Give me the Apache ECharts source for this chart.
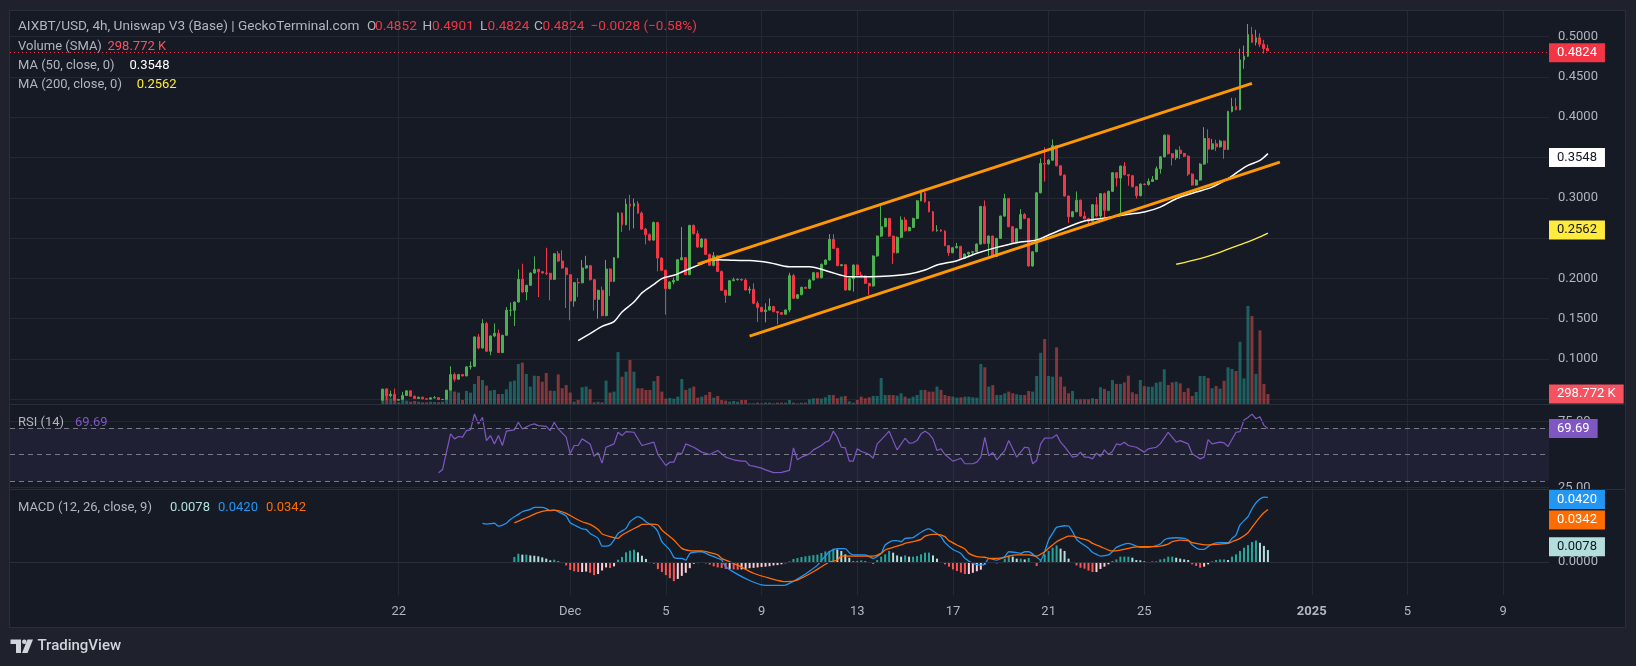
<!DOCTYPE html>
<html><head><meta charset="utf-8">
<script src="https://cdn.jsdelivr.net/npm/echarts@6/dist/echarts.min.js"></script>
<style>html,body{margin:0;padding:0;background:#1f222c;}#c{width:1636px;height:666px;}</style>
</head><body><div id="c"></div>
<script>
// ---------------- data ----------------
const NUM_BARS = 386;          // 4h slots on the time axis (incl. empty future)
const FIRST_BAR = 93;          // slot of the first candle
const xTickIdx  = [97, 140, 164, 188, 212, 236, 260, 284, 326, 350, 374];
const xTickText = ['22', 'Dec', '5', '9', '13', '17', '21', '25', '2025', '5', '9'];

// [open, close, low, high]
const candles = [
[0.0489,0.0625,0.0480,0.0633],[0.0625,0.0543,0.0489,0.0633],[0.0543,0.0563,0.0522,0.0608],[0.0563,0.0489,0.0485,0.0633],[0.0489,0.0497,0.0482,0.0505],
[0.0497,0.0547,0.0494,0.0592],[0.0547,0.0605,0.0540,0.0612],[0.0605,0.0539,0.0530,0.0610],[0.0539,0.0510,0.0505,0.0545],[0.0510,0.0526,0.0505,0.0532],
[0.0526,0.0506,0.0500,0.0530],[0.0506,0.0502,0.0498,0.0512],[0.0502,0.0518,0.0498,0.0522],[0.0518,0.0520,0.0512,0.0540],[0.0520,0.0497,0.0494,0.0524],
[0.0497,0.0499,0.0494,0.0503],[0.0499,0.0613,0.0497,0.0618],[0.0613,0.0807,0.0610,0.0910],[0.0807,0.0749,0.0720,0.0830],[0.0749,0.0807,0.0745,0.0815],
[0.0807,0.0790,0.0785,0.0812],[0.0790,0.0902,0.0786,0.0915],[0.0902,0.0910,0.0870,0.0970],[0.0910,0.1274,0.0905,0.1280],[0.1274,0.1137,0.1120,0.1310],
[0.1137,0.1439,0.1130,0.1493],[0.1439,0.1096,0.1090,0.1460],[0.1096,0.1286,0.1047,0.1290],[0.1286,0.1319,0.1270,0.1440],[0.1319,0.1080,0.1075,0.1365],
[0.1080,0.1294,0.1075,0.1300],[0.1294,0.1604,0.1290,0.1645],[0.1604,0.1604,0.1530,0.1700],[0.1604,0.1707,0.1410,0.1712],[0.1707,0.1988,0.1700,0.2112],
[0.1988,0.1831,0.1825,0.2182],[0.1831,0.1914,0.1728,0.1920],[0.1914,0.2067,0.1905,0.2075],[0.2067,0.2112,0.2060,0.2273],[0.2112,0.2083,0.1769,0.2120],
[0.2083,0.2067,0.2060,0.2090],[0.2067,0.2063,0.2040,0.2380],[0.2063,0.1988,0.1728,0.2070],[0.1988,0.2306,0.1980,0.2312],[0.2306,0.2215,0.2205,0.2340],
[0.2215,0.2129,0.2120,0.2350],[0.2129,0.2046,0.1633,0.2135],[0.2046,0.1719,0.1480,0.2050],[0.1719,0.1947,0.1650,0.1955],[0.1947,0.1945,0.1770,0.2005],
[0.1945,0.2129,0.1940,0.2230],[0.2129,0.2157,0.2120,0.2280],[0.2157,0.1984,0.1975,0.2165],[0.1984,0.1740,0.1600,0.1990],[0.1740,0.1852,0.1500,0.1860],
[0.1852,0.1538,0.1530,0.1900],[0.1538,0.2116,0.1530,0.2230],[0.2116,0.1963,0.1780,0.2125],[0.1963,0.2257,0.1955,0.2265],[0.2257,0.2810,0.2250,0.2820],
[0.2810,0.2665,0.2575,0.2818],[0.2665,0.2922,0.2660,0.2988],[0.2922,0.2897,0.2595,0.3037],[0.2897,0.2930,0.2620,0.2990],[0.2930,0.2810,0.2800,0.2960],
[0.2810,0.2612,0.2600,0.2830],[0.2612,0.2542,0.2422,0.2625],[0.2542,0.2475,0.2460,0.2560],[0.2475,0.2694,0.2470,0.2705],[0.2694,0.2252,0.2087,0.2700],
[0.2252,0.2100,0.2090,0.2260],[0.2100,0.1873,0.1550,0.2110],[0.1873,0.1955,0.1865,0.1965],[0.1955,0.1976,0.1926,0.2010],[0.1976,0.2232,0.1970,0.2240],
[0.2232,0.2257,0.2225,0.2637],[0.2257,0.2046,0.2040,0.2265],[0.2046,0.2657,0.2040,0.2665],[0.2657,0.2554,0.2545,0.2670],[0.2554,0.2389,0.2380,0.2595],
[0.2389,0.2488,0.2380,0.2500],[0.2488,0.2298,0.2290,0.2495],[0.2298,0.2162,0.2155,0.2305],[0.2162,0.2281,0.2150,0.2327],[0.2281,0.2087,0.2080,0.2290],
[0.2087,0.1852,0.1845,0.2095],[0.1852,0.1790,0.1695,0.1860],[0.1790,0.1972,0.1785,0.1980],[0.1972,0.1984,0.1965,0.2010],[0.1984,0.1988,0.1975,0.2000],
[0.1988,0.1980,0.1970,0.1998],[0.1980,0.1856,0.1850,0.2000],[0.1856,0.1865,0.1810,0.1900],[0.1865,0.1691,0.1680,0.1939],[0.1691,0.1640,0.1460,0.1720],
[0.1640,0.1588,0.1580,0.1650],[0.1588,0.1608,0.1455,0.1691],[0.1608,0.1650,0.1600,0.1753],[0.1650,0.1588,0.1580,0.1660],[0.1588,0.1575,0.1430,0.1595],
[0.1575,0.1555,0.1548,0.1580],[0.1555,0.1608,0.1550,0.1615],[0.1608,0.2034,0.1580,0.2070],[0.2034,0.1753,0.1745,0.2055],[0.1753,0.1798,0.1745,0.1805],
[0.1798,0.1889,0.1790,0.1898],[0.1889,0.1877,0.1870,0.1896],[0.1877,0.1980,0.1870,0.1990],[0.1980,0.2071,0.1975,0.2080],[0.2071,0.2009,0.2000,0.2078],
[0.2009,0.2174,0.2000,0.2185],[0.2174,0.2228,0.2165,0.2235],[0.2228,0.2484,0.2220,0.2550],[0.2484,0.2372,0.2365,0.2550],[0.2372,0.2158,0.2150,0.2380],
[0.2158,0.2170,0.2150,0.2178],[0.2170,0.1856,0.1850,0.2175],[0.1856,0.1997,0.1850,0.2005],[0.1997,0.2166,0.1836,0.2172],[0.2166,0.2042,0.2035,0.2172],
[0.2042,0.2030,0.2020,0.2083],[0.2030,0.1939,0.1930,0.2036],[0.1939,0.1906,0.1794,0.1945],[0.1906,0.2278,0.1900,0.2285],[0.2278,0.2525,0.2270,0.2532],
[0.2525,0.2641,0.2515,0.2897],[0.2641,0.2744,0.2635,0.2752],[0.2744,0.2525,0.2515,0.2750],[0.2525,0.2319,0.2180,0.2530],[0.2319,0.2509,0.2310,0.2520],
[0.2509,0.2724,0.2500,0.2770],[0.2724,0.2591,0.2580,0.2760],[0.2591,0.2633,0.2585,0.2642],[0.2633,0.2744,0.2625,0.2752],[0.2744,0.2963,0.2735,0.2972],
[0.2963,0.3062,0.2955,0.3100],[0.3062,0.2951,0.2940,0.3070],[0.2951,0.2827,0.2820,0.2958],[0.2827,0.2591,0.2580,0.2835],[0.2591,0.2600,0.2580,0.2660],
[0.2600,0.2587,0.2575,0.2608],[0.2587,0.2406,0.2400,0.2595],[0.2406,0.2319,0.2280,0.2412],[0.2319,0.2380,0.2312,0.2388],[0.2380,0.2397,0.2372,0.2440],
[0.2397,0.2249,0.2240,0.2405],[0.2249,0.2302,0.2245,0.2310],[0.2302,0.2323,0.2260,0.2330],[0.2323,0.2331,0.2300,0.2340],[0.2331,0.2426,0.2325,0.2434],
[0.2426,0.2893,0.2420,0.2900],[0.2893,0.2434,0.2425,0.2967],[0.2434,0.2525,0.2280,0.2532],[0.2525,0.2273,0.2260,0.2530],[0.2273,0.2496,0.2265,0.2504],
[0.2496,0.2773,0.2490,0.2780],[0.2773,0.2992,0.2765,0.3050],[0.2992,0.2641,0.2635,0.2998],[0.2641,0.2447,0.2440,0.2650],[0.2447,0.2616,0.2440,0.2625],
[0.2616,0.2794,0.2610,0.2860],[0.2794,0.2744,0.2735,0.2810],[0.2744,0.2154,0.2146,0.2750],[0.2154,0.2331,0.2146,0.2340],[0.2331,0.3062,0.2325,0.3070],
[0.3062,0.3426,0.3055,0.3488],[0.3426,0.3418,0.3200,0.3627],[0.3418,0.3467,0.3410,0.3480],[0.3467,0.3649,0.3460,0.3723],[0.3649,0.3397,0.3390,0.3655],
[0.3397,0.3281,0.3275,0.3405],[0.3281,0.3021,0.3015,0.3290],[0.3021,0.2765,0.2690,0.3030],[0.2765,0.2827,0.2758,0.2835],[0.2827,0.2971,0.2820,0.3078],
[0.2971,0.2773,0.2765,0.2978],[0.2773,0.2740,0.2730,0.2830],[0.2740,0.2710,0.2650,0.2752],[0.2710,0.2914,0.2705,0.2922],[0.2914,0.2774,0.2765,0.3010],
[0.2774,0.3051,0.2740,0.3058],[0.3051,0.2844,0.2760,0.3065],[0.2844,0.3080,0.2835,0.3090],[0.3080,0.3311,0.3072,0.3320],[0.3311,0.3245,0.3140,0.3318],
[0.3245,0.3393,0.2803,0.3400],[0.3393,0.3286,0.3278,0.3443],[0.3286,0.3274,0.3150,0.3295],[0.3274,0.3137,0.3130,0.3282],[0.3137,0.3026,0.2990,0.3145],
[0.3026,0.3170,0.3020,0.3180],[0.3170,0.3165,0.3155,0.3180],[0.3165,0.3203,0.3150,0.3240],[0.3203,0.3228,0.3198,0.3270],[0.3228,0.3360,0.3220,0.3390],
[0.3360,0.3509,0.3300,0.3517],[0.3509,0.3777,0.3500,0.3785],[0.3777,0.3546,0.3538,0.3785],[0.3546,0.3496,0.3400,0.3553],[0.3496,0.3591,0.3470,0.3600],
[0.3591,0.3550,0.3480,0.3640],[0.3550,0.3517,0.3505,0.3558],[0.3517,0.3294,0.3270,0.3525],[0.3294,0.3158,0.3150,0.3302],[0.3158,0.3220,0.3150,0.3228],
[0.3220,0.3418,0.3212,0.3430],[0.3418,0.3736,0.3410,0.3877],[0.3736,0.3604,0.3430,0.3850],[0.3604,0.3670,0.3596,0.3730],[0.3670,0.3633,0.3580,0.3720],
[0.3633,0.3703,0.3620,0.3720],[0.3703,0.3600,0.3484,0.3710],[0.3600,0.4071,0.3592,0.4080],[0.4071,0.4133,0.4060,0.4240],[0.4133,0.4092,0.4085,0.4240],
[0.4092,0.4711,0.4085,0.4850],[0.4711,0.4756,0.4600,0.4888],[0.4756,0.5025,0.4748,0.5157],[0.5025,0.4930,0.4920,0.5120],[0.4930,0.4985,0.4890,0.5085],
[0.4985,0.4905,0.4870,0.5040],[0.4905,0.4852,0.4790,0.4960],[0.4852,0.4824,0.4824,0.4901]
];

// volume in thousands, one per candle
const volumeK = [
440,470,170,170,50,120,100,70,90,70,
50,50,70,60,50,70,140,400,370,340,
120,390,340,600,835,715,550,400,420,300,
300,440,670,700,1195,1235,895,520,845,835,
665,925,400,390,885,470,565,340,70,120,
500,520,440,50,70,50,700,340,370,1550,
815,965,1315,965,470,470,420,420,685,835,
370,160,180,160,220,745,420,470,520,190,
220,270,360,190,240,120,100,70,90,70,
120,120,20,20,40,20,40,40,20,40,
40,40,120,40,20,40,40,140,170,170,
160,200,270,270,170,220,240,80,40,120,
220,170,200,240,240,775,270,270,270,250,
320,220,170,220,270,420,420,370,370,520,
420,270,240,220,190,200,220,220,200,190,
1195,1095,520,565,270,270,320,370,320,290,
270,270,390,370,835,1530,1940,835,815,1690,
815,520,320,390,140,140,140,140,170,150,
500,450,390,715,600,600,645,845,350,300,
715,535,515,515,635,665,1035,565,645,665,
615,360,470,240,360,835,835,775,470,535,
460,695,1095,1045,985,1860,765,2925,2625,900,
2200,600,298.772
];

// moving averages: [slot, value]
const ma50 = [[142,0.1227],[145,0.1315],[148,0.1405],[151,0.1465],[153,0.1584],[156,0.1707],[158,0.1820],[161,0.1926],[163,0.1998],[166,0.2038],[168,0.2079],[171,0.2141],[173,0.2182],[175,0.2224],[177,0.2232],[181,0.2224],[185,0.2222],[190,0.2195],[195,0.2145],[200,0.2145],[205,0.2083],[210,0.2021],[215,0.2021],[220,0.2030],[225,0.2054],[229,0.2104],[232,0.2166],[237,0.2220],[242,0.2311],[247,0.2385],[252,0.2443],[257,0.2476],[260,0.2538],[265,0.2641],[269,0.2711],[273,0.2741],[280,0.2795],[284,0.2824],[288,0.2885],[292,0.2989],[297,0.3071],[301,0.3133],[305,0.3237],[308,0.3340],[310,0.3402],[313,0.3464],[315,0.3548]];
const ma200 = [[292,0.2175],[298,0.2245],[302,0.2307],[306,0.2382],[310,0.2452],[313,0.2514],[315,0.2562]];

// trend channel drawn on the chart: [slot, price]
const channelUpper = [[172,0.2177],[311,0.4420]];
const channelLower = [[185,0.1283],[318,0.3443]];

// RSI(14): [slot, value]
const rsi14 = [[107,36.2],[108,38.7],[110,65.6],[111,61.8],[112,63.6],[113,63.1],[114,68.1],[115,68.6],[116,80.6],[117,73.1],[118,78.1],[119,60.5],[120,64.3],[121,58],[122,64.3],[123,56.8],[124,67.6],[126,68.6],[127,74.4],[128,69.3],[130,72.3],[131,73.1],[132,71.8],[134,71.3],[135,68.1],[136,74.4],[137,69.3],[139,63.1],[140,50.5],[141,56.8],[142,56.8],[143,61.8],[145,58],[146,48.7],[147,51.3],[148,43.5],[149,55.5],[151,58],[152,66.8],[153,64.3],[154,67.3],[156,66.8],[158,56.8],[161,59.3],[162,50],[164,41.7],[165,44.2],[166,44.2],[167,51.3],[168,50.5],[169,58],[171,55.5],[173,51.8],[175,50],[177,53],[179,48],[181,46],[183,45],[184,45],[185,41.7],[186,41.2],[188,39.7],[189,38.4],[191,36.3],[193,36.5],[195,38],[196,55],[197,46],[198,48],[200,50.5],[201,53.5],[203,56.8],[204,59.3],[205,60.5],[206,67.6],[207,63],[208,55.5],[209,55],[210,45],[211,45],[212,54.3],[213,52.3],[214,51.3],[215,50],[216,47.2],[217,58],[219,64.3],[220,67.6],[222,53.5],[224,62.3],[225,58.5],[226,58.8],[227,60.5],[228,65.6],[229,67.6],[230,65.6],[231,61.8],[232,53],[233,54.3],[234,50],[236,45],[237,46],[238,47.2],[239,43],[241,43],[242,44.2],[243,48],[244,63],[245,49],[246,51.5],[247,46],[249,53],[250,60.5],[251,54.3],[252,48],[254,55.5],[255,55],[256,43],[257,45.5],[258,58],[259,62.3],[261,62.6],[262,65],[263,59.3],[264,56],[266,48],[267,48.7],[268,51.8],[269,48],[270,48],[271,46.7],[272,51],[273,48.5],[274,53.5],[275,50],[276,52.3],[277,58],[278,57.3],[279,59.3],[280,56.8],[282,55.5],[284,51.8],[285,54.3],[287,55.5],[288,58],[290,66.8],[292,59.3],[293,60.5],[295,58],[296,50.5],[298,46.7],[299,48],[300,61.3],[301,58],[303,59.3],[304,58.8],[305,56],[307,66.8],[308,67.3],[309,76],[310,78],[311,80.5],[312,77],[313,78.5],[314,72],[315,69.69]];

// MACD(12,26,9)
const macdLine = [[118,0.0252],[119,0.0247],[121,0.0252],[122,0.0234],[124,0.0252],[125,0.0277],[127,0.0310],[128,0.0327],[130,0.0342],[131,0.0355],[133,0.0355],[134,0.0347],[135,0.0334],[136,0.0338],[137,0.0327],[139,0.0299],[140,0.0255],[142,0.0229],[143,0.0215],[144,0.0212],[145,0.0186],[147,0.0154],[148,0.0104],[149,0.0104],[150,0.0111],[151,0.0143],[152,0.0186],[154,0.0219],[155,0.0262],[157,0.0295],[158,0.0284],[159,0.0262],[161,0.0229],[162,0.0197],[163,0.0132],[165,0.0078],[166,0.0031],[167,0.0024],[168,0.0024],[169,0.0013],[170,0.0056],[172,0.0067],[173,0.0067],[175,0.0045],[176,0.0035],[178,0.0013],[179,-0.0030],[182,-0.0080],[185,-0.0120],[188,-0.0148],[191,-0.0152],[194,-0.0150],[196,-0.0125],[198,-0.0095],[200,-0.0060],[202,-0.0020],[205,0.0067],[207,0.0087],[209,0.0087],[210,0.0061],[211,0.0046],[214,0.0046],[215,0.0035],[216,0.0024],[218,0.0056],[219,0.0111],[221,0.0139],[222,0.0139],[223,0.0132],[224,0.0154],[226,0.0158],[227,0.0176],[229,0.0208],[230,0.0215],[231,0.0202],[233,0.0165],[234,0.0126],[236,0.0082],[238,0.0056],[239,0.0024],[241,-0.0009],[243,-0.0020],[244,-0.0015],[245,0.0024],[246,0.0017],[247,0.0013],[249,0.0035],[250,0.0067],[252,0.0061],[253,0.0056],[254,0.0067],[255,0.0067],[257,0.0031],[258,0.0013],[259,0.0067],[260,0.0143],[261,0.0186],[262,0.0225],[264,0.0236],[265,0.0234],[266,0.0197],[267,0.0147],[268,0.0126],[270,0.0089],[271,0.0063],[272,0.0050],[273,0.0039],[275,0.0046],[276,0.0067],[277,0.0095],[279,0.0117],[280,0.0121],[282,0.0104],[283,0.0095],[285,0.0095],[286,0.0100],[288,0.0117],[289,0.0143],[290,0.0154],[292,0.0158],[294,0.0154],[295,0.0143],[296,0.0111],[298,0.0082],[299,0.0082],[300,0.0100],[301,0.0117],[303,0.0126],[305,0.0126],[306,0.0154],[307,0.0176],[308,0.0241],[310,0.0295],[311,0.0345],[312,0.0385],[313,0.0410],[314,0.0422],[315,0.0420]];
const signalLine = [[126,0.0255],[128,0.0277],[130,0.0299],[132,0.0321],[134,0.0334],[136,0.0338],[137,0.0334],[139,0.0316],[141,0.0288],[143,0.0262],[145,0.0245],[147,0.0212],[148,0.0182],[150,0.0165],[152,0.0154],[153,0.0176],[155,0.0204],[157,0.0230],[158,0.0245],[160,0.0247],[162,0.0241],[163,0.0208],[166,0.0143],[168,0.0089],[170,0.0074],[172,0.0072],[173,0.0072],[175,0.0061],[177,0.0046],[178,0.0024],[180,0.0002],[182,-0.0020],[186,-0.0073],[190,-0.0105],[194,-0.0128],[197,-0.0117],[201,-0.0063],[205,0.0000],[207,0.0013],[208,0.0039],[211,0.0039],[216,0.0039],[218,0.0056],[219,0.0078],[221,0.0095],[223,0.0111],[224,0.0121],[226,0.0132],[228,0.0147],[229,0.0169],[231,0.0180],[232,0.0180],[234,0.0165],[235,0.0139],[237,0.0111],[239,0.0085],[240,0.0056],[242,0.0035],[244,0.0031],[245,0.0024],[247,0.0024],[249,0.0031],[250,0.0039],[252,0.0046],[255,0.0046],[257,0.0039],[259,0.0067],[260,0.0089],[262,0.0132],[264,0.0158],[265,0.0169],[266,0.0169],[268,0.0154],[270,0.0139],[271,0.0121],[273,0.0100],[275,0.0078],[276,0.0072],[278,0.0078],[280,0.0089],[281,0.0095],[283,0.0100],[286,0.0100],[288,0.0104],[290,0.0117],[291,0.0132],[293,0.0143],[295,0.0139],[296,0.0126],[298,0.0117],[300,0.0111],[301,0.0113],[303,0.0117],[305,0.0121],[306,0.0132],[308,0.0154],[310,0.0191],[311,0.0225],[312,0.0260],[313,0.0292],[314,0.0320],[315,0.0342]];
const HIST_START = 126;
const macdHist = [
0.0033,0.0054,0.0048,0.0048,0.0043,0.0041,0.0037,0.0030,0.0022,0.0011,
0.0015,0.0004,-0.0007,-0.0022,-0.0052,-0.0060,-0.0065,-0.0065,-0.0062,-0.0070,
-0.0085,-0.0078,-0.0055,-0.0035,-0.0039,-0.0028,0.0015,0.0033,0.0063,0.0074,
0.0080,0.0063,0.0041,0.0020,-0.0007,-0.0011,-0.0046,-0.0065,-0.0085,-0.0105,
-0.0124,-0.0110,-0.0090,-0.0070,-0.0040,-0.0011,-0.0007,-0.0004,-0.0009,-0.0017,
-0.0028,-0.0035,-0.0039,-0.0045,-0.0045,-0.0048,-0.0050,-0.0048,-0.0045,-0.0040,
-0.0038,-0.0035,-0.0032,-0.0030,-0.0027,-0.0022,-0.0020,-0.0015,-0.0008,0.0004,
0.0020,0.0026,0.0033,0.0037,0.0041,0.0045,0.0048,0.0059,0.0069,0.0072,
0.0087,0.0082,0.0072,0.0050,0.0028,0.0004,0.0007,0.0011,0.0004,-0.0002,
-0.0013,0.0013,0.0035,0.0050,0.0072,0.0061,0.0043,0.0035,0.0043,0.0035,
0.0035,0.0039,0.0050,0.0061,0.0061,0.0043,0.0022,-0.0004,-0.0015,-0.0030,
-0.0048,-0.0058,-0.0068,-0.0078,-0.0078,-0.0070,-0.0060,-0.0050,-0.0015,-0.0004,
-0.0004,-0.0009,-0.0004,0.0022,0.0043,0.0035,0.0022,0.0022,0.0017,0.0026,
-0.0004,-0.0026,0.0017,0.0050,0.0072,0.0093,0.0108,0.0087,0.0072,0.0022,
-0.0002,-0.0022,-0.0037,-0.0043,-0.0055,-0.0065,-0.0065,-0.0045,-0.0030,-0.0015,
0.0007,0.0017,0.0035,0.0035,0.0035,0.0028,0.0013,0.0011,0.0004,-0.0002,
0.0004,0.0004,0.0017,0.0022,0.0035,0.0035,0.0028,0.0022,0.0017,0.0013,
-0.0015,-0.0026,-0.0037,-0.0030,-0.0015,0.0004,0.0013,0.0017,0.0017,0.0013,
0.0035,0.0050,0.0072,0.0093,0.0110,0.0130,0.0140,0.0125,0.0105,0.0078
];

// ---------------- build ----------------
const FONT = 'Roboto, "Liberation Sans", sans-serif';
const GRAY = '#b2b5be';
const UP = '#4caf50', DOWN = '#f23645';
const cats = Array.from({length: NUM_BARS}, (_, i) => String(i));
const tickMap = {};
xTickIdx.forEach((k, j) => { tickMap[k] = xTickText[j]; });

const candleData = cats.map((_, i) => candles[i - FIRST_BAR] || '-');
const volData = cats.map((_, i) => {
  const r = candles[i - FIRST_BAR];
  if (!r) return '-';
  return {value: volumeK[i - FIRST_BAR], itemStyle: {color: r[1] >= r[0] ? 'rgba(38,166,154,0.5)' : 'rgba(239,83,80,0.5)'}};
});
const histData = cats.map((_, i) => {
  const k = i - HIST_START;
  if (k < 0 || k >= macdHist.length) return '-';
  const v = macdHist[k], p = k > 0 ? macdHist[k - 1] : v;
  let c;
  if (v >= 0) c = v >= p ? '#26a69a' : '#b2dfdb';
  else c = v < p ? '#ff5252' : '#ffcdd2';
  return {value: v, itemStyle: {color: c}};
});

const last = candles[candles.length - 1];
const prevClose = candles[candles.length - 2][1];
const chg = last[1] - prevClose;
const pct = chg / prevClose * 100;
const sgn = v => (v < 0 ? '\u2212' : '+');
const lastVol = volumeK[volumeK.length - 1];
const lastMa50 = ma50[ma50.length - 1][1];
const lastMa200 = ma200[ma200.length - 1][1];
const lastRsi = rsi14[rsi14.length - 1][1];
const lastMacd = macdLine[macdLine.length - 1][1];
const lastSig = signalLine[signalLine.length - 1][1];
const lastHist = macdHist[macdHist.length - 1];

// price-scale labels hidden where a value tag sits on top of them
const PRICE_MIN = 0.05, PRICE_MAX = 0.5, PRICE_PX = 362.7;
const pxPerUnit = PRICE_PX / (PRICE_MAX - PRICE_MIN);
const priceTagValues = [last[1], lastMa50, lastMa200];

function tag(value, text, bg, fg, dy) {
  return {yAxis: value, lineStyle: {color: 'rgba(0,0,0,0)', width: 1, type: 'solid'},
    label: {show: true, position: 'end', distance: 0, formatter: text, backgroundColor: bg, color: fg,
      padding: [3, 8, 2, 8], fontSize: 13, fontFamily: FONT, lineHeight: 14, offset: [0, dy || 0]}};
}
const mlBase = {silent: true, symbol: ['none', 'none'], animation: false, label: {show: false}};

const G = {left: 10, right: 87};
const option = {
  backgroundColor: '#161a25',
  animation: false,
  textStyle: {fontFamily: FONT},
  grid: [
    {left: 11.99, right: 88.99, top: 11, bottom: 71},
    Object.assign({top: 36.6, bottom: 266.7}, G),
    Object.assign({top: 304, bottom: 262}, G),
    Object.assign({top: 421.4, bottom: 178.4}, G),
    Object.assign({top: 500.5, bottom: 73.2}, G)
  ],
  xAxis: [
    {type: 'category', gridIndex: 0, data: cats, boundaryGap: false,
      axisLine: {show: false}, axisTick: {show: false, interval: (i) => tickMap[i] !== undefined},
      splitLine: {show: true, interval: (i) => tickMap[i] !== undefined, lineStyle: {color: '#242833', width: 1}},
      axisLabel: {interval: (i) => tickMap[i] !== undefined, margin: 10, color: GRAY, fontSize: 13, fontFamily: FONT,
        formatter: (v, i) => { const t = tickMap[i]; return t === '2025' ? '{b|2025}' : (t || ''); },
        rich: {b: {fontWeight: 'bold', color: GRAY, fontSize: 13, fontFamily: FONT}}}},
    {type: 'category', gridIndex: 1, data: cats, show: false},
    {type: 'category', gridIndex: 2, data: cats, show: false},
    {type: 'category', gridIndex: 3, data: cats, show: false},
    {type: 'category', gridIndex: 4, data: cats, show: false}
  ],
  yAxis: [
    {type: 'value', gridIndex: 0, show: false, min: 0, max: 1, splitLine: {show: false}},
    {type: 'value', gridIndex: 1, position: 'right', min: PRICE_MIN, max: PRICE_MAX, interval: 0.05,
      axisLine: {show: false}, axisTick: {show: false},
      splitLine: {lineStyle: {color: '#242833'}},
      axisLabel: {color: GRAY, fontSize: 13, fontFamily: FONT, margin: 9, align: 'left',
        formatter: v => ((v < 0.075 || priceTagValues.some(t => Math.abs(t - v) * pxPerUnit < 11)) ? '' : v.toFixed(4))}},
    {type: 'value', gridIndex: 2, show: false, min: 0, max: 2985, splitLine: {show: false}},
    {type: 'value', gridIndex: 3, position: 'right', min: 25, max: 75, interval: 25,
      axisLine: {show: false}, axisTick: {show: false}, splitLine: {show: false},
      axisLabel: {color: GRAY, fontSize: 13, fontFamily: FONT, margin: 9, align: 'left',
        formatter: v => (v === 50 ? '' : v.toFixed(2))}},
    {type: 'value', gridIndex: 4, position: 'right', min: -0.02, max: 0.04, interval: 0.02,
      axisLine: {show: false}, axisTick: {show: false}, splitLine: {show: false},
      axisLabel: {color: GRAY, fontSize: 13, fontFamily: FONT, margin: 9, align: 'left',
        formatter: v => (Math.abs(v) < 1e-9 ? '0.0000' : '')}}
  ],
  series: [
    {type: 'bar', name: 'Volume', xAxisIndex: 2, yAxisIndex: 2, data: volData, barWidth: 3, z: 1,
      markLine: Object.assign({}, mlBase, {data: [tag(lastVol, lastVol.toFixed(3) + ' K', '#f7525f', '#ffffff')]})},
    {type: 'candlestick', name: 'AIXBT', xAxisIndex: 1, yAxisIndex: 1, data: candleData, barWidth: 2.4, clip: false, z: 3,
      itemStyle: {color: UP, color0: DOWN, borderColor: UP, borderColor0: DOWN, borderWidth: 1},
      markLine: Object.assign({}, mlBase, {data: [
        Object.assign(tag(last[1], last[1].toFixed(4), '#f23645', '#ffffff'), {lineStyle: {type: [1, 3], color: '#f23645', width: 1}})
      ]})},
    {type: 'line', name: 'MA50', xAxisIndex: 1, yAxisIndex: 1, data: ma50, showSymbol: false, smooth: 0.3, clip: false, z: 4,
      lineStyle: {color: '#ffffff', width: 1.5},
      markLine: Object.assign({}, mlBase, {data: [tag(lastMa50, lastMa50.toFixed(4), '#ffffff', '#131722')]})},
    {type: 'line', name: 'MA200', xAxisIndex: 1, yAxisIndex: 1, data: ma200, showSymbol: false, smooth: 0.3, clip: false, z: 4,
      lineStyle: {color: '#ffeb3b', width: 1.4},
      markLine: Object.assign({}, mlBase, {data: [tag(lastMa200, lastMa200.toFixed(4), '#ffeb3b', '#131722')]})},
    {type: 'line', name: 'ChannelUpper', xAxisIndex: 1, yAxisIndex: 1, data: channelUpper, showSymbol: false, clip: false, z: 5,
      lineStyle: {color: '#ff9800', width: 3}},
    {type: 'line', name: 'ChannelLower', xAxisIndex: 1, yAxisIndex: 1, data: channelLower, showSymbol: false, clip: false, z: 5,
      lineStyle: {color: '#ff9800', width: 3}},
    {type: 'line', name: 'RSI', xAxisIndex: 3, yAxisIndex: 3, data: rsi14, showSymbol: false, clip: false, z: 4,
      lineStyle: {color: '#7e57c2', width: 1.2},
      markArea: {silent: true, itemStyle: {color: 'rgba(126,87,194,0.1)'}, data: [[{yAxis: 30}, {yAxis: 70}]]},
      markLine: Object.assign({}, mlBase, {data: [
        {yAxis: 75, lineStyle: {type: 'solid', color: '#242833', width: 1}},
        {yAxis: 25, lineStyle: {type: 'solid', color: '#242833', width: 1}},
        {yAxis: 70, lineStyle: {type: [5, 4], color: '#787b86', width: 1}},
        {yAxis: 50, lineStyle: {type: [5, 4], color: '#787b86', width: 1}},
        {yAxis: 30, lineStyle: {type: [5, 4], color: '#787b86', width: 1}},
        tag(lastRsi, lastRsi.toFixed(2), '#7e57c2', '#ffffff')
      ]})},
    {type: 'bar', name: 'Histogram', xAxisIndex: 4, yAxisIndex: 4, data: histData, barWidth: 2, z: 2,
      markLine: Object.assign({}, mlBase, {data: [
        {yAxis: 0, lineStyle: {type: 'solid', color: '#2a2e39', width: 1}},
        tag(lastHist, lastHist.toFixed(4), '#b2dfdb', '#131722')
      ]})},
    {type: 'line', name: 'MACD', xAxisIndex: 4, yAxisIndex: 4, data: macdLine, showSymbol: false, smooth: 0.2, clip: false, z: 4,
      lineStyle: {color: '#2196f3', width: 1.3},
      markLine: Object.assign({}, mlBase, {data: [tag(lastMacd, lastMacd.toFixed(4), '#2196f3', '#ffffff', -1)]})},
    {type: 'line', name: 'Signal', xAxisIndex: 4, yAxisIndex: 4, data: signalLine, showSymbol: false, smooth: 0.2, clip: false, z: 4,
      lineStyle: {color: '#ff6d00', width: 1.3},
      markLine: Object.assign({}, mlBase, {data: [tag(lastSig, lastSig.toFixed(4), '#ff6d00', '#ffffff', 4)]})}
  ],
  graphic: []
};

// frame, dividers, legend texts
const OUT = '#1f222c', BORDER = '#2b2f3a';
const gfx = option.graphic;
[[0, 0, 1636, 10], [0, 0, 9, 666], [1626, 0, 10, 666], [0, 628, 1636, 38]].forEach(r =>
  gfx.push({type: 'rect', z: 100, shape: {x: r[0], y: r[1], width: r[2], height: r[3]}, style: {fill: OUT}, silent: true}));
gfx.push({type: 'rect', z: 101, shape: {x: 9.5, y: 10.5, width: 1616, height: 617}, style: {fill: null, stroke: BORDER, lineWidth: 1}, silent: true});
[404.5, 489.5].forEach(y => gfx.push({type: 'line', z: 101, shape: {x1: 9.5, y1: y, x2: 1625.5, y2: y}, style: {stroke: BORDER, lineWidth: 1}, silent: true}));

function txt(x, y, s, fill, size) {
  gfx.push({type: 'text', z: 102, x: x, y: y, silent: true,
    style: {text: s, fill: fill, font: (size || 13) + 'px ' + FONT, verticalAlign: 'middle', align: 'left'}});
}
const H1 = 13.6, LX = 18;
txt(LX, 26.5, 'AIXBT/USD, 4h, Uniswap V3 (Base) | GeckoTerminal.com', GRAY, H1);
txt(367, 26.5, 'O', GRAY, H1); txt(375, 26.5, last[0].toFixed(4), DOWN, H1);
txt(422.5, 26.5, 'H', GRAY, H1); txt(432, 26.5, last[3].toFixed(4), DOWN, H1);
txt(480, 26.5, 'L', GRAY, H1); txt(487.5, 26.5, last[2].toFixed(4), DOWN, H1);
txt(534, 26.5, 'C', GRAY, H1); txt(542.5, 26.5, last[1].toFixed(4), DOWN, H1);
txt(590.5, 26.5, sgn(chg) + Math.abs(chg).toFixed(4) + ' (' + sgn(chg) + Math.abs(pct).toFixed(2) + '%)', DOWN, H1);
txt(LX, 47, 'Volume (SMA)', GRAY); txt(107.5, 47, lastVol.toFixed(3) + ' K', '#f7525f');
txt(LX, 66, 'MA (50, close, 0)', GRAY); txt(129.5, 66, lastMa50.toFixed(4), '#ffffff');
txt(LX, 85, 'MA (200, close, 0)', GRAY); txt(136.7, 85, lastMa200.toFixed(4), '#ffeb3b');
txt(LX, 423, 'RSI (14)', GRAY); txt(75, 423, lastRsi.toFixed(2), '#7e57c2');
txt(LX, 508, 'MACD (12, 26, close, 9)', GRAY);
txt(170, 508, lastHist.toFixed(4), '#b2dfdb');
txt(218, 508, lastMacd.toFixed(4), '#2196f3');
txt(266, 508, lastSig.toFixed(4), '#ff6d00');

// TradingView logo
gfx.push({type: 'polygon', z: 102, silent: true, shape: {points: [[10.5, 639.5], [21, 639.5], [21, 653], [16, 653], [16, 644], [10.5, 644]]}, style: {fill: '#d1d4dc'}});
gfx.push({type: 'circle', z: 102, silent: true, shape: {cx: 24.3, cy: 641.8, r: 2.3}, style: {fill: '#d1d4dc'}});
gfx.push({type: 'polygon', z: 102, silent: true, shape: {points: [[27.5, 639.5], [33, 639.5], [27.5, 653], [22, 653]]}, style: {fill: '#d1d4dc'}});
gfx.push({type: 'text', z: 102, x: 37.5, y: 646.5, silent: true,
  style: {text: 'TradingView', fill: '#d1d4dc', font: '500 15px ' + FONT, verticalAlign: 'middle', align: 'left'}});

const chart = echarts.init(document.getElementById('c'), null, {renderer: 'canvas'});
chart.setOption(option);
</script>
</body></html>
